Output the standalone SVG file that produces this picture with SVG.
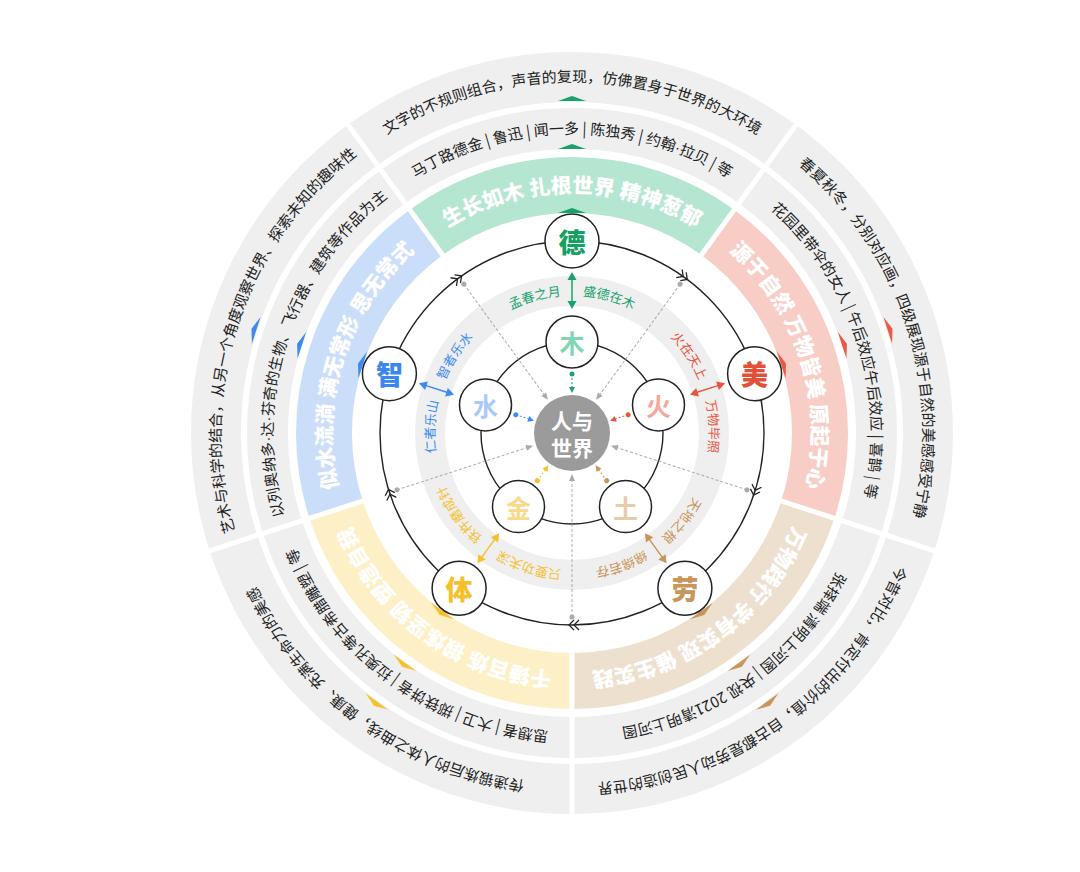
<svg xmlns="http://www.w3.org/2000/svg" width="1080" height="872" viewBox="0 0 1080 872">
<style>
text{font-family:"Noto Sans CJK SC","Noto Sans",sans-serif}
.ot{font-size:15px;fill:#222}
.ct{font-size:21px;font-weight:900;fill:#fff}
.lt{font-size:13px}
.dot{font-family:"Liberation Sans",sans-serif}
.nd{fill:#fff;stroke:#222;stroke-width:1.5}
.nt{font-size:27px;font-weight:900;text-anchor:middle;dominant-baseline:central}
.it{font-size:25px;font-weight:700;text-anchor:middle;dominant-baseline:central}
.ring{fill:none;stroke:#222;stroke-width:1.4}
.chev{fill:none;stroke:#222;stroke-width:1.3}
.dash{stroke:#aaa;stroke-width:1;stroke-dasharray:3 2}
.gd{fill:#aaa}
.sep{stroke:#fff;stroke-width:5}
</style>
<defs>
<path id="o0" d="M221,433 A351,351 0 0 1 923,433"/>
<path id="o72" d="M463.535,99.179 A351,351 0 0 1 680.465,766.821"/>
<path id="o144" d="M855.965,226.687 A351,351 0 0 1 288.035,639.313"/>
<path id="o216" d="M855.965,639.313 A351,351 0 0 1 288.035,226.687"/>
<path id="o288" d="M463.535,766.821 A351,351 0 0 1 680.465,99.179"/>
<path id="s0" d="M273,433 A299,299 0 0 1 871,433"/>
<path id="s72" d="M479.604,148.634 A299,299 0 0 1 664.396,717.366"/>
<path id="s144" d="M813.896,257.252 A299,299 0 0 1 330.104,608.748"/>
<path id="s216" d="M813.896,608.748 A299,299 0 0 1 330.104,257.252"/>
<path id="s288" d="M479.604,717.366 A299,299 0 0 1 664.396,148.634"/>
<path id="c0" d="M332,433 A240,240 0 0 1 812,433"/>
<path id="c72" d="M497.836,204.746 A240,240 0 0 1 646.164,661.254"/>
<path id="c144" d="M766.164,291.932 A240,240 0 0 1 377.836,574.068"/>
<path id="c216" d="M766.164,574.068 A240,240 0 0 1 377.836,291.932"/>
<path id="c288" d="M497.836,661.254 A240,240 0 0 1 646.164,204.746"/>
<path id="l0" d="M434.5,433 A137.5,137.5 0 0 1 709.5,433"/>
<path id="l72" d="M529.51,302.23 A137.5,137.5 0 0 1 614.49,563.77"/>
<path id="l144" d="M683.24,352.18 A137.5,137.5 0 0 1 460.76,513.82"/>
<path id="l216" d="M683.24,513.82 A137.5,137.5 0 0 1 460.76,352.18"/>
<path id="l288" d="M529.51,563.77 A137.5,137.5 0 0 1 614.49,302.23"/>
</defs>
<rect width="1080" height="872" fill="#fff"/>

<g id="bands">
<circle cx="572" cy="433" r="356" fill="none" stroke="#efefef" stroke-width="50"/>
<circle cx="572" cy="433" r="304.5" fill="none" stroke="#efefef" stroke-width="41"/>
<g fill="none" stroke-width="56">
<path d="M426.229,232.364 A248,248 0 0 1 717.771,232.364" stroke="#b4e6d2"/>
<path d="M717.771,232.364 A248,248 0 0 1 807.862,509.636" stroke="#f7cdc6"/>
<path d="M807.862,509.636 A248,248 0 0 1 572,681" stroke="#eee0cf"/>
<path d="M572,681 A248,248 0 0 1 336.138,509.636" stroke="#fef0c6"/>
<path d="M336.138,509.636 A248,248 0 0 1 426.229,232.364" stroke="#cadefa"/>
</g>
<circle cx="572" cy="433" r="142" fill="none" stroke="#efefef" stroke-width="30"/>
<g class="sep">
<line x1="698.374" y1="259.061" x2="801.236" y2="117.483"/>
<line x1="776.477" y1="499.439" x2="942.912" y2="553.517"/>
<line x1="572" y1="648" x2="572" y2="823"/>
<line x1="367.523" y1="499.439" x2="201.088" y2="553.517"/>
<line x1="445.626" y1="259.061" x2="342.764" y2="117.483"/>
</g>
<g fill="#16a36a"><polygon points="558,101 586,101 572,96"/><polygon points="558,149 586,149 572,144"/><polygon points="558,213 586,213 572,208"/></g>
<g fill="#e85a43" transform="rotate(72 572 433)"><polygon points="558,101 586,101 572,96"/><polygon points="558,149 586,149 572,144"/><polygon points="558,213 586,213 572,208"/></g>
<g fill="#c8955a" transform="rotate(144 572 433)"><polygon points="558,101 586,101 572,96"/><polygon points="558,149 586,149 572,144"/><polygon points="558,213 586,213 572,208"/></g>
<g fill="#f7c12e" transform="rotate(216 572 433)"><polygon points="558,101 586,101 572,96"/><polygon points="558,149 586,149 572,144"/><polygon points="558,213 586,213 572,208"/></g>
<g fill="#3d89f2" transform="rotate(288 572 433)"><polygon points="558,101 586,101 572,96"/><polygon points="558,149 586,149 572,144"/><polygon points="558,213 586,213 572,208"/></g>
</g>

<g id="band-texts">
<text class="ot"><textPath href="#o0" startOffset="50%" text-anchor="middle">文字的不规则组合，声音的复现，仿佛置身于世界的大环境</textPath></text>
<text class="ot"><textPath href="#o72" startOffset="50%" text-anchor="middle">春夏秋冬，分别对应画，四级展现源于自然的美感感受宁静</textPath></text>
<text class="ot"><textPath href="#o144" startOffset="50%" text-anchor="middle">今昔对比，肯定付出的价值，自古都是劳动人民创造的世界</textPath></text>
<text class="ot"><textPath href="#o216" startOffset="50%" text-anchor="middle">传递锻炼后的人体之曲线，健康、充满生命力的美感</textPath></text>
<text class="ot"><textPath href="#o288" startOffset="50%" text-anchor="middle">艺术与科学的结合，从另一个角度观察世界、探索未知的趣味性</textPath></text>
<text class="ot"><textPath href="#s0" startOffset="50%" text-anchor="middle">马丁路德金 | 鲁迅 | 闻一多 | 陈独秀 | 约翰<tspan class="dot">·</tspan>拉贝 | 等</textPath></text>
<text class="ot"><textPath href="#s72" startOffset="50%" text-anchor="middle">花园里带伞的女人 | 午后效应午后效应 | 喜鹊 | 等</textPath></text>
<text class="ot"><textPath href="#s144" startOffset="50%" text-anchor="middle">张择端 清明上河图 | 央视 2021清明上河图</textPath></text>
<text class="ot"><textPath href="#s216" startOffset="50%" text-anchor="middle">思想者 | 大卫 | 掷铁饼者 | 拉奥孔等古希腊雕塑 | 等</textPath></text>
<text class="ot"><textPath href="#s288" startOffset="50%" text-anchor="middle">以列奥纳多<tspan class="dot">·</tspan>达<tspan class="dot">·</tspan>芬奇的生物、飞行器、建筑等作品为主</textPath></text>
<text class="ct"><textPath href="#c0" startOffset="50%" text-anchor="middle">生长如木 扎根世界 精神葱郁</textPath></text>
<text class="ct"><textPath href="#c72" startOffset="50%" text-anchor="middle">源于自然 万物皆美 原起于心</textPath></text>
<text class="ct"><textPath href="#c144" startOffset="50%" text-anchor="middle">万物践行 学有实现 催生实践</textPath></text>
<text class="ct"><textPath href="#c216" startOffset="50%" text-anchor="middle">千锤百炼 锻炼坚韧 塑造自我</textPath></text>
<text class="ct"><textPath href="#c288" startOffset="50%" text-anchor="middle">似水流淌 满无常形 思无常式</textPath></text>
<g class="lt">
<text fill="#1aa36e"><textPath href="#l0" startOffset="47.5%" text-anchor="end">孟春之月</textPath></text>
<text fill="#1aa36e"><textPath href="#l0" startOffset="52.5%" text-anchor="start">盛德在木</textPath></text>
<text fill="#e8553f"><textPath href="#l72" startOffset="47.5%" text-anchor="end">火在天上</textPath></text>
<text fill="#e8553f"><textPath href="#l72" startOffset="52.5%" text-anchor="start">万物毕照</textPath></text>
<text fill="#c8955a"><textPath href="#l144" startOffset="47.5%" text-anchor="end">天地之根</textPath></text>
<text fill="#c8955a"><textPath href="#l144" startOffset="52.5%" text-anchor="start">绵绵若存</textPath></text>
<text fill="#f5c131"><textPath href="#l216" startOffset="47.5%" text-anchor="end">只要功夫深</textPath></text>
<text fill="#f5c131"><textPath href="#l216" startOffset="52.5%" text-anchor="start">铁杵磨成针</textPath></text>
<text fill="#3d8bf0"><textPath href="#l288" startOffset="47.5%" text-anchor="end">仁者乐山</textPath></text>
<text fill="#3d8bf0"><textPath href="#l288" startOffset="52.5%" text-anchor="start">智者乐水</textPath></text>
</g>
</g>

<g id="connectors">
<circle class="ring" cx="572" cy="433" r="192"/>
<circle class="ring" cx="572" cy="433" r="91"/>
<g id="chevrons">
<path class="chev" d="M565,236 L570,241 L565,246 M570,236 L575,241 L570,246" transform="rotate(36 572 433)"/>
<path class="chev" d="M565,236 L570,241 L565,246 M570,236 L575,241 L570,246" transform="rotate(108 572 433)"/>
<path class="chev" d="M565,236 L570,241 L565,246 M570,236 L575,241 L570,246" transform="rotate(180 572 433)"/>
<path class="chev" d="M565,236 L570,241 L565,246 M570,236 L575,241 L570,246" transform="rotate(252 572 433)"/>
<path class="chev" d="M565,236 L570,241 L565,246 M570,236 L575,241 L570,246" transform="rotate(324 572 433)"/>
</g>
<g id="gray-arrows">
<g transform="rotate(36 572 433)"><line class="dash" x1="572" y1="249" x2="572" y2="386"/><circle class="gd" cx="572" cy="249" r="2.5"/><polygon class="gd" points="572,392 569,385 575,385"/></g>
<g transform="rotate(108 572 433)"><line class="dash" x1="572" y1="249" x2="572" y2="386"/><circle class="gd" cx="572" cy="249" r="2.5"/><polygon class="gd" points="572,392 569,385 575,385"/></g>
<g transform="rotate(180 572 433)"><line class="dash" x1="572" y1="249" x2="572" y2="386"/><circle class="gd" cx="572" cy="249" r="2.5"/><polygon class="gd" points="572,392 569,385 575,385"/></g>
<g transform="rotate(252 572 433)"><line class="dash" x1="572" y1="249" x2="572" y2="386"/><circle class="gd" cx="572" cy="249" r="2.5"/><polygon class="gd" points="572,392 569,385 575,385"/></g>
<g transform="rotate(324 572 433)"><line class="dash" x1="572" y1="249" x2="572" y2="386"/><circle class="gd" cx="572" cy="249" r="2.5"/><polygon class="gd" points="572,392 569,385 575,385"/></g>
</g>
<g id="inner-arrows">
<g fill="#1aa36e" stroke="#1aa36e"><line x1="572" y1="374" x2="572" y2="388" stroke-dasharray="2 2"/><circle cx="572" cy="374" r="2.5" stroke="none"/><polygon points="572,393 569,387 575,387" stroke="none"/></g>
<g fill="#e8553f" stroke="#e8553f" transform="rotate(72 572 433)"><line x1="572" y1="374" x2="572" y2="388" stroke-dasharray="2 2"/><circle cx="572" cy="374" r="2.5" stroke="none"/><polygon points="572,393 569,387 575,387" stroke="none"/></g>
<g fill="#c8955a" stroke="#c8955a" transform="rotate(144 572 433)"><line x1="572" y1="374" x2="572" y2="388" stroke-dasharray="2 2"/><circle cx="572" cy="374" r="2.5" stroke="none"/><polygon points="572,393 569,387 575,387" stroke="none"/></g>
<g fill="#f5c131" stroke="#f5c131" transform="rotate(216 572 433)"><line x1="572" y1="374" x2="572" y2="388" stroke-dasharray="2 2"/><circle cx="572" cy="374" r="2.5" stroke="none"/><polygon points="572,393 569,387 575,387" stroke="none"/></g>
<g fill="#3d8bf0" stroke="#3d8bf0" transform="rotate(288 572 433)"><line x1="572" y1="374" x2="572" y2="388" stroke-dasharray="2 2"/><circle cx="572" cy="374" r="2.5" stroke="none"/><polygon points="572,393 569,387 575,387" stroke="none"/></g>
</g>
<g id="double-arrows" stroke-width="1.5">
<g fill="#1aa36e" stroke="#1aa36e"><line x1="572" y1="278" x2="572" y2="303"/><polygon points="572,272 567.5,280 576.5,280" stroke="none"/><polygon points="572,309 567.5,301 576.5,301" stroke="none"/></g>
<g fill="#e8553f" stroke="#e8553f" transform="rotate(72 572 433)"><line x1="572" y1="278" x2="572" y2="303"/><polygon points="572,272 567.5,280 576.5,280" stroke="none"/><polygon points="572,309 567.5,301 576.5,301" stroke="none"/></g>
<g fill="#c8955a" stroke="#c8955a" transform="rotate(144 572 433)"><line x1="572" y1="278" x2="572" y2="303"/><polygon points="572,272 567.5,280 576.5,280" stroke="none"/><polygon points="572,309 567.5,301 576.5,301" stroke="none"/></g>
<g fill="#f5c131" stroke="#f5c131" transform="rotate(216 572 433)"><line x1="572" y1="278" x2="572" y2="303"/><polygon points="572,272 567.5,280 576.5,280" stroke="none"/><polygon points="572,309 567.5,301 576.5,301" stroke="none"/></g>
<g fill="#3d8bf0" stroke="#3d8bf0" transform="rotate(288 572 433)"><line x1="572" y1="278" x2="572" y2="303"/><polygon points="572,272 567.5,280 576.5,280" stroke="none"/><polygon points="572,309 567.5,301 576.5,301" stroke="none"/></g>
</g>
</g>

<g id="node-de"><circle class="nd" cx="572" cy="241" r="27"/><text class="nt" x="572" y="241" fill="#14a062">德</text></g>
<g id="node-mei"><circle class="nd" cx="754.6" cy="373.7" r="27"/><text class="nt" x="754.6" y="373.7" fill="#e3503a">美</text></g>
<g id="node-lao"><circle class="nd" cx="684.9" cy="588.3" r="27"/><text class="nt" x="684.9" y="588.3" fill="#c8955a">劳</text></g>
<g id="node-ti"><circle class="nd" cx="459.1" cy="588.3" r="27"/><text class="nt" x="459.1" y="588.3" fill="#f6c02d">体</text></g>
<g id="node-zhi"><circle class="nd" cx="389.4" cy="373.7" r="27"/><text class="nt" x="389.4" y="373.7" fill="#3b87f0">智</text></g>

<g id="node-mu"><circle class="nd" cx="572" cy="342" r="26"/><text class="it" x="572" y="342" fill="#7fd6b2">木</text></g>
<g id="node-huo"><circle class="nd" cx="658.5" cy="404.9" r="26"/><text class="it" x="658.5" y="404.9" fill="#f2a89b">火</text></g>
<g id="node-tu"><circle class="nd" cx="625.5" cy="506.6" r="26"/><text class="it" x="625.5" y="506.6" fill="#e7ccac">土</text></g>
<g id="node-jin"><circle class="nd" cx="518.5" cy="506.6" r="26"/><text class="it" x="518.5" y="506.6" fill="#fbd98a">金</text></g>
<g id="node-shui"><circle class="nd" cx="485.5" cy="404.9" r="26"/><text class="it" x="485.5" y="404.9" fill="#a9c9f8">水</text></g>

<g id="node-center"><circle cx="572" cy="433" r="38" fill="#9b9b9b"/><text x="572" y="420" font-size="21" font-weight="700" fill="#fff" text-anchor="middle" dominant-baseline="central">人与</text><text x="572" y="447" font-size="21" font-weight="700" fill="#fff" text-anchor="middle" dominant-baseline="central">世界</text></g>
</svg>
